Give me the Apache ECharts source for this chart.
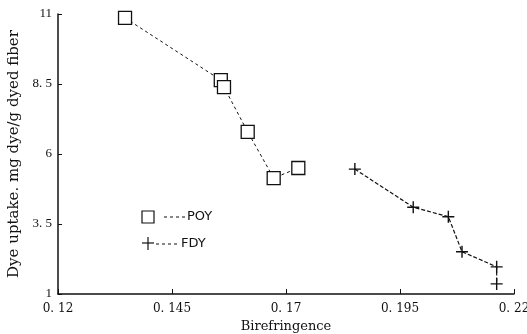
<!DOCTYPE html>
<html>
<head>
<meta charset="utf-8">
<script src="https://cdn.jsdelivr.net/npm/echarts@6/dist/echarts.min.js"></script>
<style>
  html, body { margin: 0; padding: 0; background: #fff; }
  #chart { width: 527px; height: 334px; }
</style>
</head>
<body>
<div id="chart"></div>
<script>
// birefringence vs dye uptake
var poyX = [0.1347, 0.1557, 0.1564, 0.1616, 0.1673, 0.1727];
var poyY = [10.86, 8.64, 8.39, 6.79, 5.14, 5.50];
var fdyX = [0.1851, 0.1979, 0.2056, 0.2086, 0.2162, 0.2162];
var fdyY = [5.46, 4.10, 3.76, 2.51, 1.97, 1.36];
var xTicks = [0.12, 0.145, 0.17, 0.195, 0.22];
var yTicks = [1, 3.5, 6, 8.5, 11];

function pairs(xs, ys) {
    return xs.map(function (x, i) { return [x, ys[i]]; });
}
function spaced(v) {
    // the figure prints decimals as "0. 145"
    return String(v).replace('.', '. ');
}

var serif = 'DejaVu Serif';
var plus = 'path://M0,5L10,5M5,0L5,10';

var chart = echarts.init(document.getElementById('chart'));
var option = {
    animation: false,
    grid: { left: 58, right: 13, top: 14, bottom: 40, outerBoundsMode: 'none', containLabel: false },
    xAxis: {
        type: 'value',
        min: 0.12,
        max: 0.22,
        name: 'Birefringence',
        nameLocation: 'middle',
        nameGap: 25,
        nameTextStyle: { fontFamily: serif, fontSize: 13, color: '#111' },
        splitLine: { show: false },
        axisLine: { lineStyle: { color: '#111', width: 1.5 } },
        axisTick: { inside: true, length: 5, lineStyle: { color: '#111' }, customValues: xTicks },
        axisLabel: {
            customValues: xTicks,
            formatter: spaced,
            fontFamily: serif, fontSize: 12, color: '#111', margin: 9
        }
    },
    yAxis: {
        type: 'value',
        min: 1,
        max: 11,
        name: 'Dye uptake. mg dye/g dyed fiber',
        nameLocation: 'middle',
        nameGap: 35,
        nameTextStyle: { fontFamily: serif, fontSize: 15, color: '#111' },
        splitLine: { show: false },
        axisLine: { show: true, lineStyle: { color: '#111', width: 1.5 } },
        axisTick: { show: true, inside: true, length: 4, lineStyle: { color: '#111' }, customValues: yTicks },
        axisLabel: {
            customValues: yTicks,
            formatter: spaced,
            fontFamily: 'Liberation Serif', fontSize: 13, color: '#111', margin: 6
        }
    },
    series: [{
        name: 'POY',
        type: 'line',
        data: pairs(poyX, poyY),
        symbol: 'rect',
        symbolSize: 13,
        itemStyle: { color: '#fff', borderColor: '#111', borderWidth: 1.3 },
        lineStyle: { color: '#111', width: 1, type: [3, 3] },
        z: 3
    }, {
        name: 'FDY',
        type: 'line',
        data: pairs(fdyX, fdyY),
        symbol: plus,
        symbolSize: 12,
        itemStyle: { color: 'none', borderColor: '#111', borderWidth: 1.4 },
        lineStyle: { color: '#111', width: 1.2, type: [4, 2] },
        z: 3
    }],
    graphic: [
        { type: 'rect', shape: { x: 142, y: 211, width: 12, height: 12 },
          style: { fill: '#fff', stroke: '#111', lineWidth: 1.2 } },
        { type: 'line', shape: { x1: 164, y1: 217, x2: 185, y2: 217 },
          style: { stroke: '#111', lineWidth: 1, lineDash: [3, 3] } },
        { type: 'text', x: 187, y: 217,
          style: { text: 'POY', font: '13px DejaVu Sans', fill: '#111', verticalAlign: 'middle' } },
        { type: 'line', shape: { x1: 142, y1: 243, x2: 154, y2: 243 },
          style: { stroke: '#111', lineWidth: 1.2 } },
        { type: 'line', shape: { x1: 148, y1: 237, x2: 148, y2: 250 },
          style: { stroke: '#111', lineWidth: 1.2 } },
        { type: 'line', shape: { x1: 156, y1: 244, x2: 180, y2: 244 },
          style: { stroke: '#111', lineWidth: 1, lineDash: [3, 3] } },
        { type: 'text', x: 181, y: 244,
          style: { text: 'FDY', font: '13px DejaVu Sans', fill: '#111', verticalAlign: 'middle' } }
    ]
};
chart.setOption(option);
</script>
</body>
</html>
